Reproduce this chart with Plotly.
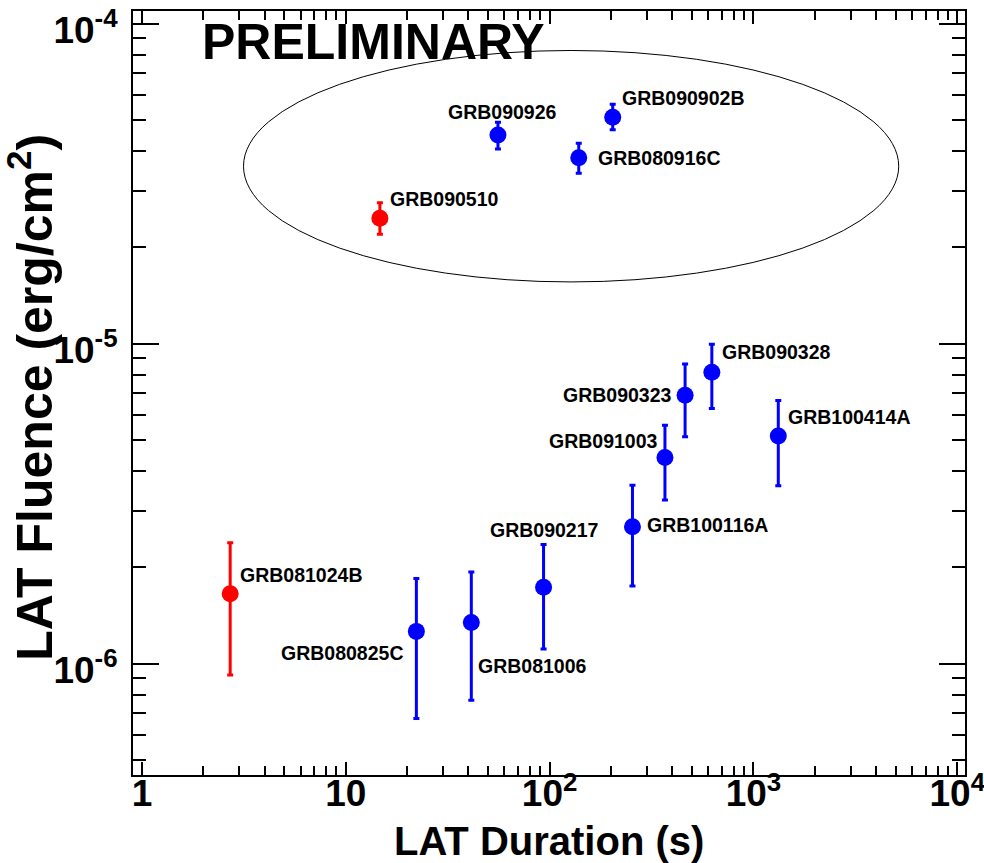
import numpy as np
import plotly.graph_objects as go

# Fermi-LAT bright bursts: duration (s) and fluence (erg/cm^2) with 1-sigma bounds
names = ["GRB081024B", "GRB090510", "GRB080825C", "GRB081006", "GRB090217",
         "GRB100116A", "GRB091003", "GRB090323", "GRB090328", "GRB100414A",
         "GRB090926", "GRB080916C", "GRB090902B"]
is_short = [True, True, False, False, False,
            False, False, False, False, False,
            False, False, False]
duration = [2.71, 14.7, 22.2, 41.3, 93.4,
            255.0, 368.0, 462.0, 625.0, 1324.0,
            55.8, 139.0, 204.0]
fluence = [1.655e-6, 2.466e-5, 1.262e-6, 1.346e-6, 1.734e-6,
           2.68e-6, 4.41e-6, 6.90e-6, 8.15e-6, 5.15e-6,
           4.49e-5, 3.81e-5, 5.10e-5]
fluence_hi = [2.39e-6, 2.76e-5, 1.845e-6, 1.936e-6, 2.36e-6,
              3.61e-6, 5.56e-6, 8.65e-6, 9.97e-6, 6.65e-6,
              4.92e-5, 4.23e-5, 5.60e-5]
fluence_lo = [9.22e-7, 2.20e-5, 6.74e-7, 7.69e-7, 1.111e-6,
              1.75e-6, 3.25e-6, 5.12e-6, 6.28e-6, 3.60e-6,
              4.06e-5, 3.41e-5, 4.66e-5]

x_ticks = [1, 10, 100, 1000, 10000]
x_ticktext = ["1", "10", "10<sup>2</sup>", "10<sup>3</sup>", "10<sup>4</sup>"]
y_ticks = [1e-6, 1e-5, 1e-4]
y_ticktext = ["10<sup>-6</sup>", "10<sup>-5</sup>", "10<sup>-4</sup>"]

x_title = "LAT Duration (s)"
y_title = "LAT Fluence (erg/cm<sup>2</sup>)"

x_range = [0.904, 10911]
y_range = [4.49e-7, 1.096e-4]

# region enclosing the very bright bursts (duration, fluence bounds)
ellipse_x = [3.15, 5160]
ellipse_y = [1.56e-5, 8.25e-5]

# label placement: (anchor, x shift px, y shift px)
label_pos = {
    "GRB081024B": ("left", 8, 19),
    "GRB090510": ("left", 8, 19),
    "GRB080825C": ("right", -11, -22),
    "GRB081006": ("left", 5, -44),
    "GRB090217": ("center", 0, 57),
    "GRB100116A": ("left", 13, 2),
    "GRB091003": ("right", -5, 17),
    "GRB090323": ("right", -11, 0),
    "GRB090328": ("left", 8, 20),
    "GRB100414A": ("left", 8, 19),
    "GRB090926": ("center", 5, 23),
    "GRB080916C": ("left", 17, 0),
    "GRB090902B": ("left", 7, 19),
}

FONT = "Liberation Sans"

fig = go.Figure()

for short, color in [(False, "#0000ff"), (True, "#ff0000")]:
    idx = [i for i, s in enumerate(is_short) if s == short]
    d = np.array([duration[i] for i in idx])
    f = np.array([fluence[i] for i in idx])
    hi = np.array([fluence_hi[i] for i in idx])
    lo = np.array([fluence_lo[i] for i in idx])
    fig.add_trace(go.Scatter(
        x=d, y=f, mode="markers",
        marker=dict(size=17, color=color, line=dict(width=0)),
        error_y=dict(type="data", symmetric=False, array=hi - f,
                     arrayminus=f - lo, color=color, thickness=3, width=3),
        showlegend=False, hoverinfo="skip",
    ))

annotations = []
for name, d, f in zip(names, duration, fluence):
    anchor, dx, dy = label_pos[name]
    annotations.append(dict(
        x=np.log10(d), y=np.log10(f), xref="x", yref="y",
        text=name, showarrow=False, xanchor=anchor, yanchor="middle",
        xshift=dx, yshift=dy,
        font=dict(family=FONT, size=19.5, color="black", weight="bold"),
    ))

annotations.append(dict(
    x=0.08, y=0.96, xref="paper", yref="paper", text="PRELIMINARY",
    showarrow=False, xanchor="left", yanchor="middle",
    font=dict(family=FONT, size=50, color="black", weight="bold"),
))

# axis titles
annotations.append(dict(
    x=0.5, y=-0.0866, xref="paper", yref="paper", text=x_title,
    showarrow=False, xanchor="center", yanchor="middle",
    font=dict(family=FONT, size=40, color="black", weight="bold"),
))
annotations.append(dict(
    x=-0.1226, y=0.495, xref="paper", yref="paper", text=y_title,
    showarrow=False, xanchor="center", yanchor="middle", textangle=-90,
    font=dict(family=FONT, size=50, color="black", weight="bold"),
))

lx0, lx1 = np.log10(x_range)
ly0, ly1 = np.log10(y_range)


def xfrac(v):
    return (np.log10(v) - lx0) / (lx1 - lx0)


def yfrac(v):
    return (np.log10(v) - ly0) / (ly1 - ly0)


fig.add_shape(
    type="circle", xref="x domain", yref="y domain",
    x0=xfrac(ellipse_x[0]), x1=xfrac(ellipse_x[1]),
    y0=yfrac(ellipse_y[0]), y1=yfrac(ellipse_y[1]),
    line=dict(color="black", width=1),
)


def minor_vals(lo, hi):
    vals = []
    for e in range(int(np.floor(np.log10(lo))), int(np.ceil(np.log10(hi))) + 1):
        for m in range(2, 10):
            v = m * 10.0 ** e
            if lo <= v <= hi:
                vals.append(v)
    return vals


tick_font = dict(family=FONT, size=37, color="black", weight="bold")

fig.update_xaxes(
    type="log", range=[lx0, lx1], automargin=False,
    tickmode="array", tickvals=x_ticks, ticktext=x_ticktext,
    ticks="inside", ticklen=13, tickwidth=1.5, tickcolor="black",
    minor=dict(tickmode="array", tickvals=minor_vals(*x_range),
               ticks="inside", ticklen=9, tickwidth=1.5, tickcolor="black",
               showgrid=False),
    showline=True, linecolor="black", linewidth=2, mirror="allticks",
    showgrid=False, zeroline=False,
    tickfont=tick_font, ticklabelstandoff=-15, ticklabeloverflow="allow",
)
fig.update_yaxes(
    type="log", range=[ly0, ly1], automargin=False,
    tickmode="array", tickvals=y_ticks, ticktext=y_ticktext,
    ticks="inside", ticklen=26, tickwidth=1.5, tickcolor="black",
    minor=dict(tickmode="array", tickvals=minor_vals(*y_range),
               ticks="inside", ticklen=13, tickwidth=1.5, tickcolor="black",
               showgrid=False),
    showline=True, linecolor="black", linewidth=2, mirror="allticks",
    showgrid=False, zeroline=False,
    tickfont=tick_font, ticklabelstandoff=6, ticklabelshift=6,
    ticklabeloverflow="allow",
)

fig.update_layout(
    width=984, height=863,
    margin=dict(l=133, r=19, t=11, b=88),
    paper_bgcolor="white", plot_bgcolor="white",
    annotations=annotations,
    showlegend=False,
)

fig.write_html("out.html")
